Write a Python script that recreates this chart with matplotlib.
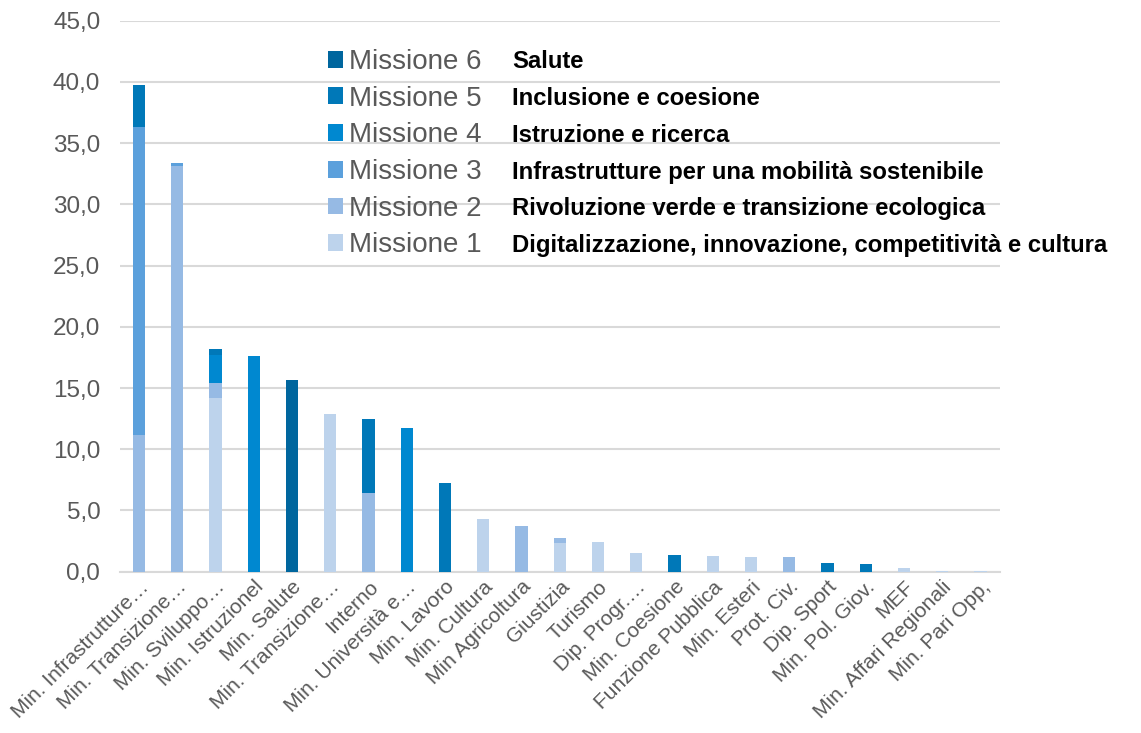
import numpy as np
import matplotlib
matplotlib.use("Agg")
import matplotlib.pyplot as plt
from matplotlib.patches import Patch
from matplotlib.ticker import FuncFormatter

plt.rcParams['font.family'] = ['Liberation Sans', 'DejaVu Sans']

# -------------------------
# Data (billions of euro per ministry, split by mission)
# -------------------------
ministeri = [
    "Min. Infrastrutture…", "Min. Transizione…", "Min. Sviluppo…", "Min. Istruzionel",
    "Min. Salute", "Min. Transizione…", "Interno", "Min. Università e…", "Min. Lavoro",
    "Min. Cultura", "Min Agricoltura", "Giustizia", "Turismo", "Dip. Progr.…",
    "Min. Coesione", "Funzione Pubblica", "Min. Esteri", "Prot. Civ.", "Dip. Sport",
    "Min. Pol. Giov.", "MEF", "Min. Affari Regionali", "Min. Pari Opp,",
]

missione_1 = [0.0, 0.0, 14.2, 0.0, 0.0, 12.85, 0.0, 0.0, 0.0, 4.3, 0.0, 2.38, 2.4, 1.5,
              0.0, 1.3, 1.22, 0.0, 0.0, 0.0, 0.33, 0.1, 0.02]
missione_2 = [11.2, 33.1, 1.2, 0.0, 0.0, 0.0, 6.45, 0.0, 0.0, 0.0, 3.72, 0.38, 0.0, 0.0,
              0.0, 0.0, 0.0, 1.18, 0.0, 0.0, 0.0, 0.0, 0.0]
missione_3 = [25.1, 0.3, 0.0, 0.0, 0.0, 0.0, 0.0, 0.0, 0.0, 0.0, 0.0, 0.0, 0.0, 0.0,
              0.0, 0.0, 0.0, 0.0, 0.0, 0.0, 0.0, 0.0, 0.0]
missione_4 = [0.0, 0.0, 2.3, 17.6, 0.0, 0.0, 0.0, 11.7, 0.0, 0.0, 0.0, 0.0, 0.0, 0.0,
              0.0, 0.0, 0.0, 0.0, 0.0, 0.0, 0.0, 0.0, 0.0]
missione_5 = [3.4, 0.0, 0.45, 0.0, 0.0, 0.0, 6.05, 0.0, 7.23, 0.0, 0.0, 0.0, 0.0, 0.0,
              1.35, 0.0, 0.0, 0.0, 0.7, 0.65, 0.0, 0.0, 0.0]
missione_6 = [0.0, 0.0, 0.0, 0.0, 15.65, 0.0, 0.0, 0.0, 0.0, 0.0, 0.0, 0.0, 0.0, 0.0,
              0.0, 0.0, 0.0, 0.0, 0.0, 0.0, 0.0, 0.0, 0.0]

missioni = ["Missione 1", "Missione 2", "Missione 3", "Missione 4", "Missione 5", "Missione 6"]
descrizioni = [
    "Digitalizzazione, innovazione, competitività e cultura",
    "Rivoluzione verde e transizione ecologica",
    "Infrastrutture per una mobilità sostenibile",
    "Istruzione e ricerca",
    "Inclusione e coesione",
    "Salute",
]
colori = ["#BDD3EC", "#96BAE4", "#5BA0DC", "#0088D0", "#0078B8", "#00669E"]

serie = [missione_1, missione_2, missione_3, missione_4, missione_5, missione_6]

# -------------------------
# Plot
# -------------------------
fig = plt.figure(figsize=(11.41, 7.33), dpi=100)
ax = fig.add_axes([0.105, 0.22, 0.771, 0.752])

x = np.arange(len(ministeri))
bottom = np.zeros(len(ministeri))
for vals, col in zip(serie, colori):
    vals = np.array(vals)
    ax.bar(x, vals, width=0.32, bottom=bottom, color=col, zorder=3)
    bottom += vals

ax.set_xlim(-0.5, len(ministeri) - 0.5)
ax.set_ylim(0, 45)
ax.set_yticks(np.arange(0, 46, 5))
ax.yaxis.set_major_formatter(FuncFormatter(lambda v, p: f"{v:.1f}".replace(".", ",")))
ax.grid(axis="y", color="#D9D9D9", linewidth=1.5, zorder=0)
for side in ["top", "right", "left"]:
    ax.spines[side].set_visible(False)
ax.spines["bottom"].set_color("#D9D9D9")
ax.spines["bottom"].set_linewidth(1.5)
ax.tick_params(axis="both", length=0, colors="#595959")
ax.tick_params(axis="y", labelsize=17.5, pad=14)
ax.set_xticks(x)
ax.set_xticklabels(ministeri, rotation=45, ha="right", rotation_mode="anchor",
                   fontsize=15, color="#595959")
ax.tick_params(axis="x", pad=4)

# legend, top mission first
handles = [Patch(facecolor=c) for c in colori][::-1]
leg = ax.legend(handles, missioni[::-1], loc="upper left",
                bbox_to_anchor=(328 / 1141, 1 - 49 / 733), bbox_transform=fig.transFigure,
                frameon=False, fontsize=20, labelcolor="#595959",
                handlelength=0.55, handleheight=0.55, handletextpad=0.2,
                labelspacing=0.385, borderpad=0, borderaxespad=0)

# bold descriptions next to each legend entry
fig.canvas.draw()
inv = fig.transFigure.inverted()
for t, desc in zip(leg.get_texts(), descrizioni[::-1]):
    bb = t.get_window_extent()
    yc = inv.transform((0, (bb.y0 + bb.y1) / 2))[1]
    fig.text(512 / 1141, yc, desc, fontsize=17.2, fontweight="bold", va="center", color="black")

fig.savefig("out.png", dpi=100)
